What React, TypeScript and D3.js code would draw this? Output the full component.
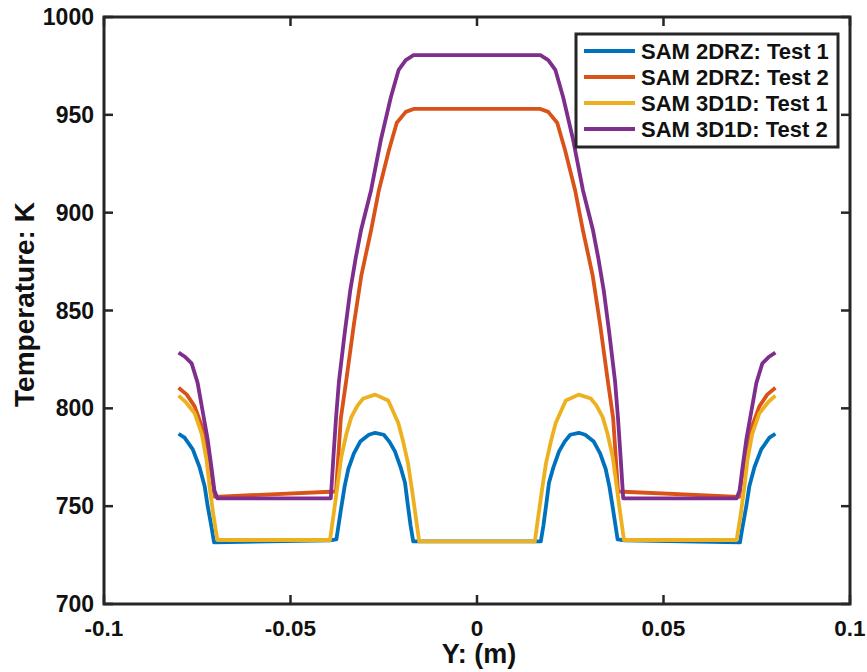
import React from "react";
import * as d3 from "d3";

const seriesNames = ["SAM 2DRZ: Test 1", "SAM 2DRZ: Test 2", "SAM 3D1D: Test 1", "SAM 3D1D: Test 2"];
const seriesColors = ["#0072BD", "#D95319", "#EDB120", "#7E2F8E"];

const xTicks = [-0.1, -0.05, 0, 0.05, 0.1];
const xTickLabels = ["-0.1", "-0.05", "0", "0.05", "0.1"];
const yTicks = [700, 750, 800, 850, 900, 950, 1000];

// SAM 2DRZ: Test 1
const blueX = [-0.080, -0.0784, -0.0762, -0.0744, -0.073, -0.0722, -0.0712, -0.0705, -0.0395, -0.0377, -0.0365, -0.0355, -0.0345, -0.033, -0.0313, -0.029, -0.0273, -0.025, -0.0235, -0.022, -0.0205, -0.0193, -0.0185, -0.0178, -0.0171,
  0.0171, 0.0178, 0.0185, 0.0193, 0.0205, 0.022, 0.0235, 0.025, 0.0273, 0.029, 0.0313, 0.033, 0.0345, 0.0355, 0.0365, 0.0377, 0.0395, 0.0705, 0.0712, 0.0722, 0.073, 0.0744, 0.0762, 0.0784, 0.080];
const blueT = [787, 785, 779, 770, 760, 750, 739.5, 731.5, 732.5, 733, 748, 760, 769, 777, 783, 786.5, 787.5, 786.5, 783, 778, 770, 762, 750, 740, 732,
  732, 740, 750, 762, 770, 778, 783, 786.5, 787.5, 786.5, 783, 777, 769, 760, 748, 733, 732.5, 731.5, 739.5, 750, 760, 770, 779, 785, 787];

// SAM 2DRZ: Test 2
const orangeX = [-0.080, -0.0778, -0.0757, -0.0738, -0.0725, -0.0712, -0.0703, -0.0378, -0.0372, -0.0365, -0.035, -0.033, -0.031, -0.0284, -0.0263, -0.0236, -0.0215, -0.0191, -0.017,
  0.017, 0.0191, 0.0215, 0.0236, 0.0263, 0.0284, 0.031, 0.033, 0.035, 0.0365, 0.0372, 0.0378, 0.0703, 0.0712, 0.0725, 0.0738, 0.0757, 0.0778, 0.080];
const orangeT = [810.5, 807, 801, 791, 779, 767, 754.8, 757.5, 775, 795, 815, 843, 868, 891, 911.5, 932, 946, 951.5, 953,
  953, 951.5, 946, 932, 911.5, 891, 868, 843, 815, 795, 775, 757.5, 754.8, 767, 779, 791, 801, 807, 810.5];

// SAM 3D1D: Test 1
const yellowX = [-0.080, -0.078, -0.0757, -0.0738, -0.0725, -0.0717, -0.0706, -0.0696, -0.0394, -0.038, -0.0364, -0.035, -0.0337, -0.032, -0.0305, -0.0273, -0.0238, -0.0211, -0.0198, -0.0185, -0.0174, -0.0163, -0.0155,
  0.0155, 0.0163, 0.0174, 0.0185, 0.0198, 0.0211, 0.0238, 0.0273, 0.0305, 0.032, 0.0337, 0.035, 0.0364, 0.038, 0.0394, 0.0696, 0.0706, 0.0717, 0.0725, 0.0738, 0.0757, 0.078, 0.080];
const yellowT = [806.5, 803, 797.5, 787, 773.5, 760, 744.5, 732.7, 732.7, 752, 775, 787, 795.5, 801.5, 805, 807, 804, 792.5, 783, 772, 758, 743, 732,
  732, 743, 758, 772, 783, 792.5, 804, 807, 805, 801.5, 795.5, 787, 775, 752, 732.7, 732.7, 744.5, 760, 773.5, 787, 797.5, 803, 806.5];

// SAM 3D1D: Test 2
const purpleX = [-0.080, -0.0784, -0.0765, -0.0749, -0.0736, -0.0722, -0.0712, -0.0704, -0.0696, -0.0392, -0.0385, -0.0378, -0.037, -0.0355, -0.034, -0.0325, -0.0311, -0.0284, -0.0258, -0.0231, -0.021, -0.0191, -0.017,
  0.017, 0.0191, 0.021, 0.0231, 0.0258, 0.0284, 0.0311, 0.0325, 0.034, 0.0355, 0.037, 0.0378, 0.0385, 0.0392, 0.0696, 0.0704, 0.0712, 0.0722, 0.0736, 0.0749, 0.0765, 0.0784, 0.080];
const purpleT = [828.5, 826.5, 823, 813, 799, 784, 770, 758, 754, 754, 775, 795, 814, 838, 860, 877, 891, 911.5, 937, 959, 973, 978, 980.5,
  980.5, 978, 973, 959, 937, 911.5, 891, 877, 860, 838, 814, 795, 775, 754, 754, 758, 770, 784, 799, 813, 823, 826.5, 828.5];

const seriesX = [blueX, orangeX, yellowX, purpleX];
const seriesT = [blueT, orangeT, yellowT, purpleT];

const W = 867;
const H = 672;
const FONT = "'Liberation Sans', Arial, Helvetica, sans-serif";
const AX = "#262626";

export default function App() {
  const x = d3.scaleLinear().domain([-0.1, 0.1]).range([104, 850]);
  const y = d3.scaleLinear().domain([700, 1000]).range([604, 17]);
  const line = d3.line<[number, number]>().x((d) => x(d[0])).y((d) => y(d[1])).curve(d3.curveLinear);

  const [x0, x1] = x.range();
  const [y0, y1] = y.range();
  const tickLen = 9;

  const legX = 576, legY = 34, legW = 262, legH = 113;
  const rowY = [51, 77, 103, 129];

  return (
    <svg width={W} height={H} style={{ position: "absolute", left: 0, top: 0, background: "#fff" }} fontFamily={FONT}>
      <rect x={0} y={0} width={W} height={H} fill="#fff" />
      {/* series */}
      <g fill="none" strokeWidth={3.8} strokeLinejoin="round">
        {seriesX.map((xs, i) => (
          <path key={i} d={line(xs.map((v, j) => [v, seriesT[i][j]] as [number, number])) || ""} stroke={seriesColors[i]} />
        ))}
      </g>
      {/* axes box */}
      <rect x={x0} y={y1} width={x1 - x0} height={y0 - y1} fill="none" stroke={AX} strokeWidth={3} />
      {/* x ticks */}
      {xTicks.map((t, i) => (
        <g key={"xt" + i}>
          <line x1={x(t)} x2={x(t)} y1={y0} y2={y0 - tickLen} stroke={AX} strokeWidth={2.5} />
          <line x1={x(t)} x2={x(t)} y1={y1} y2={y1 + tickLen} stroke={AX} strokeWidth={2.5} />
          <text x={x(t)} y={636} textAnchor="middle" fontSize={22.5} fontWeight="bold" fill="#111">{xTickLabels[i]}</text>
        </g>
      ))}
      {/* y ticks */}
      {yTicks.map((t, i) => (
        <g key={"yt" + i}>
          <line x1={x0} x2={x0 + tickLen} y1={y(t)} y2={y(t)} stroke={AX} strokeWidth={2.5} />
          <line x1={x1} x2={x1 - tickLen} y1={y(t)} y2={y(t)} stroke={AX} strokeWidth={2.5} />
          <text x={94} y={y(t) + 8} textAnchor="end" fontSize={23} fontWeight="bold" fill="#111">{t}</text>
        </g>
      ))}
      {/* axis labels */}
      <text x={479} y={663} textAnchor="middle" fontSize={27} fontWeight="bold" fill="#111">Y: (m)</text>
      <text transform={`translate(34,${(y0 + y1) / 2 - 6}) rotate(-90)`} textAnchor="middle" fontSize={28} fontWeight="bold" fill="#111">Temperature: K</text>
      {/* legend */}
      <rect x={legX} y={legY} width={legW} height={legH} fill="#fff" stroke={AX} strokeWidth={3} />
      {seriesNames.map((n, i) => (
        <g key={"lg" + i}>
          <line x1={584} x2={635} y1={rowY[i]} y2={rowY[i]} stroke={seriesColors[i]} strokeWidth={3.8} />
          <text x={641} y={rowY[i] + 8} fontSize={22} fontWeight="bold" fill="#111">{n}</text>
        </g>
      ))}
    </svg>
  );
}
